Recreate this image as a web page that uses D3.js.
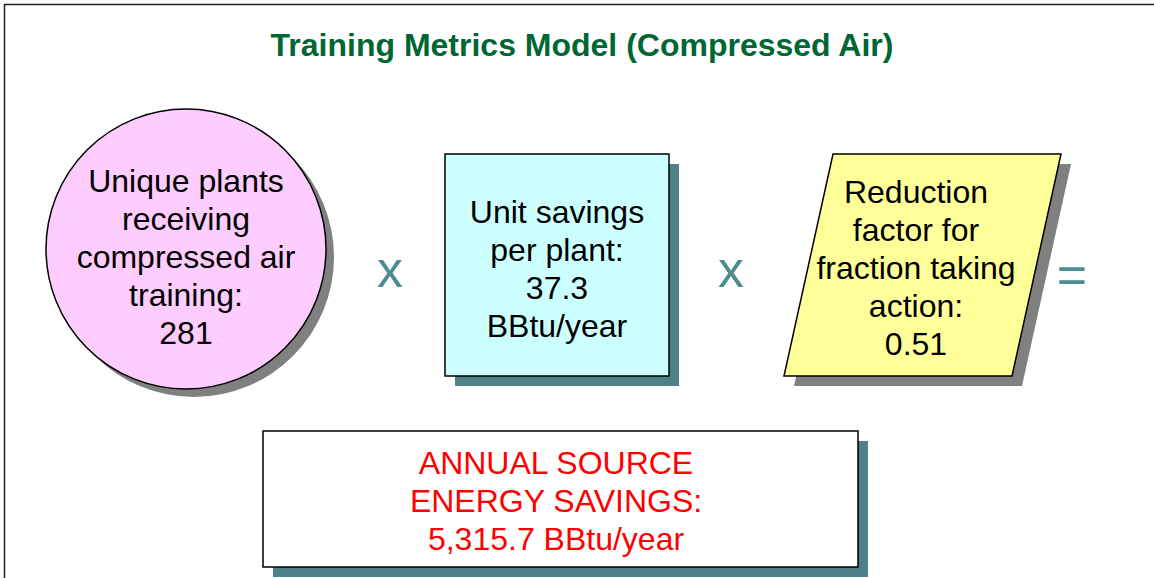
<!DOCTYPE html>
<html>
<head>
<meta charset="utf-8">
<script src="https://cdn.jsdelivr.net/npm/d3@7"></script>
<style>
  body { margin: 0; background: #fff; }
  svg { display: block; font-family: "Liberation Sans", Arial, sans-serif; }
</style>
</head>
<body>
<div id="chart"></div>
<script>
const title = "Training Metrics Model (Compressed Air)";

// factor shapes, left to right
const factorKinds = ["circle", "box", "para"];
const factorLines = [
  ["Unique plants", "receiving", "compressed air", "training:", "281"],
  ["Unit savings", "per plant:", "37.3", "BBtu/year"],
  ["Reduction", "factor for", "fraction taking", "action:", "0.51"]
];
const factorFills = ["#ffccff", "#ccffff", "#ffff99"];
const operators = ["x", "x", "="];

const resultLines = ["ANNUAL SOURCE", "ENERGY SAVINGS:", "5,315.7 BBtu/year"];

const width = 1154;
const height = 578;

const svg = d3.select("#chart")
  .append("svg")
  .attr("width", width)
  .attr("height", height);

svg.append("rect")
  .attr("width", width)
  .attr("height", height)
  .attr("fill", "#fff");

// outer frame (runs off the right and bottom)
svg.append("rect")
  .attr("x", 4.5)
  .attr("y", 4.5)
  .attr("width", width + 20)
  .attr("height", height + 20)
  .attr("fill", "none")
  .attr("stroke", "#222")
  .attr("stroke-width", 1.5);

svg.append("text")
  .attr("x", 582)
  .attr("y", 56)
  .attr("text-anchor", "middle")
  .style("font-size", "32px")
  .style("font-weight", "bold")
  .style("fill", "#006633")
  .text(title);

const shadowGray = "#808080";
const shadowTeal = "#4d8187";
const lineH = 38;
const fontSize = "32px";

function drawLines(g, lines, cx, cy, color) {
  const top = cy - (lines.length - 1) * lineH / 2;
  g.selectAll("text.line")
    .data(lines)
    .join("text")
    .attr("class", "line")
    .attr("x", cx)
    .attr("y", (d, i) => top + i * lineH)
    .attr("dy", "0.36em")
    .attr("text-anchor", "middle")
    .style("font-size", fontSize)
    .style("fill", color)
    .text(d => d);
}

// circle
const c = { cx: 186, cy: 249, r: 140 };
const gC = svg.append("g");
gC.append("circle")
  .attr("cx", c.cx + 8).attr("cy", c.cy + 8).attr("r", c.r)
  .attr("fill", shadowGray);
gC.append("circle")
  .attr("cx", c.cx).attr("cy", c.cy).attr("r", c.r)
  .attr("fill", factorFills[0])
  .attr("stroke", "#000").attr("stroke-width", 1.5);
drawLines(gC, factorLines[0], c.cx, 256, "#000");

// square
const b = { x: 445, y: 154, w: 224, h: 222 };
const gB = svg.append("g");
gB.append("rect")
  .attr("x", b.x + 10).attr("y", b.y + 10).attr("width", b.w).attr("height", b.h)
  .attr("fill", shadowTeal);
gB.append("rect")
  .attr("x", b.x).attr("y", b.y).attr("width", b.w).attr("height", b.h)
  .attr("fill", factorFills[1])
  .attr("stroke", "#000").attr("stroke-width", 1.5);
drawLines(gB, factorLines[1], 557, 268, "#000");

// parallelogram
const p = [[833, 154], [1061, 154], [1012, 376], [784, 376]];
const gP = svg.append("g");
const line = d3.line();
gP.append("path")
  .attr("d", line(p.map(([x, y]) => [x + 10, y + 10])) + "Z")
  .attr("fill", shadowGray);
gP.append("path")
  .attr("d", line(p) + "Z")
  .attr("fill", factorFills[2])
  .attr("stroke", "#000").attr("stroke-width", 1.5);
drawLines(gP, factorLines[2], 916, 267, "#000");

// operators
const opX = [390, 731, 1072];
const opY = [268, 268, 274];
svg.selectAll("text.op")
  .data(operators)
  .join("text")
  .attr("class", "op")
  .attr("x", (d, i) => opX[i])
  .attr("y", (d, i) => opY[i])
  .attr("dy", "0.36em")
  .attr("text-anchor", "middle")
  .style("font-size", "52px")
  .style("fill", "#4d8c90")
  .text(d => d);

// result box
const r = { x: 263, y: 431, w: 595, h: 136 };
const gR = svg.append("g");
gR.append("rect")
  .attr("x", r.x + 10).attr("y", r.y + 10).attr("width", r.w).attr("height", r.h)
  .attr("fill", shadowTeal);
gR.append("rect")
  .attr("x", r.x).attr("y", r.y).attr("width", r.w).attr("height", r.h)
  .attr("fill", "#fff")
  .attr("stroke", "#000").attr("stroke-width", 1.5);
drawLines(gR, resultLines, 556, 500, "#ff0000");
</script>
</body>
</html>
